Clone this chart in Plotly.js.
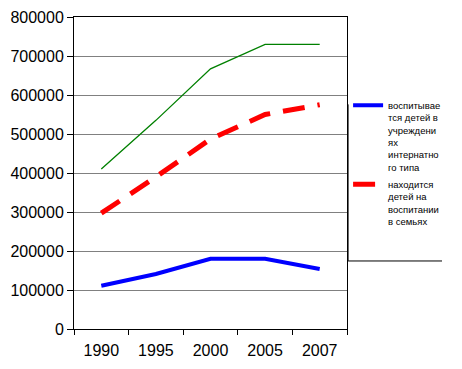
<!DOCTYPE html>
<html><head><meta charset="utf-8">
<script src="https://cdn.plot.ly/plotly-3.0.1.min.js"></script>
<style>body{margin:0;background:#fff}#c{width:462px;height:369px}</style>
</head><body><div id="c"></div>
<script>
const years = ["1990", "1995", "2000", "2005", "2007"];
const totalChildren = [410000, 535000, 667000, 730000, 730000];
const institutionChildren = [111000, 141000, 180000, 180000, 154000];
const familyChildren = [297000, 390000, 487000, 550000, 575000];
const nameInstitution = "воспитывае<br>тся детей в<br>учреждени<br>ях<br>интернатно<br>го типа";
const nameFamily = "находится<br>детей на<br>воспитании<br>в семьях";

const traces = [
  {x: years, y: totalChildren, type: "scatter", mode: "lines", showlegend: false,
   line: {color: "#008000", width: 1.3}},
  {x: years, y: institutionChildren, type: "scatter", mode: "lines", name: nameInstitution,
   legendgroup: "a", line: {color: "#0000ff", width: 4}},
  {x: years, y: familyChildren, type: "scatter", mode: "lines", name: nameFamily,
   legendgroup: "b", line: {color: "#ff0000", width: 5, dash: "22px,13px"}}
];

const layout = {
  width: 462, height: 369,
  margin: {l: 74, r: 115, t: 17, b: 40},
  paper_bgcolor: "#fff", plot_bgcolor: "#fff",
  font: {family: "Liberation Sans, Arial, sans-serif", color: "#000"},
  xaxis: {type: "category", range: [-0.5, 4.5], tickson: "boundaries",
    ticks: "outside", ticklen: 5, tickcolor: "#000", showgrid: false,
    showline: true, linecolor: "#000", linewidth: 1, mirror: true,
    ticklabelstandoff: 7,
    tickfont: {size: 16, color: "#000"}, fixedrange: true},
  yaxis: {range: [0, 800000], dtick: 100000, ticks: "outside", ticklen: 6,
    tickcolor: "#000", showgrid: true, gridcolor: "#808080", gridwidth: 1,
    showline: true, linecolor: "#000", linewidth: 1, mirror: true, zeroline: false,
    tickformat: "d", tickfont: {size: 16, color: "#000"}, fixedrange: true},
  legend: {x: 1.004, xanchor: "left", y: 0.758, yanchor: "top", valign: "top",
    font: {size: 9.5, color: "#000"}, traceorder: "grouped", tracegroupgap: 2,
    bgcolor: "rgba(0,0,0,0)", borderwidth: 0},
  shapes: [
    {type: "line", xref: "paper", yref: "paper", x0: 1.004, x1: 1.004, y0: 0.218, y1: 0.72,
     line: {color: "#000", width: 1}},
    {type: "line", xref: "paper", yref: "paper", x0: 1.004, x1: 1.348, y0: 0.218, y1: 0.218,
     line: {color: "#000", width: 1}}
  ]
};
Plotly.newPlot("c", traces, layout, {displayModeBar: false, staticPlot: true});
</script></body></html>
